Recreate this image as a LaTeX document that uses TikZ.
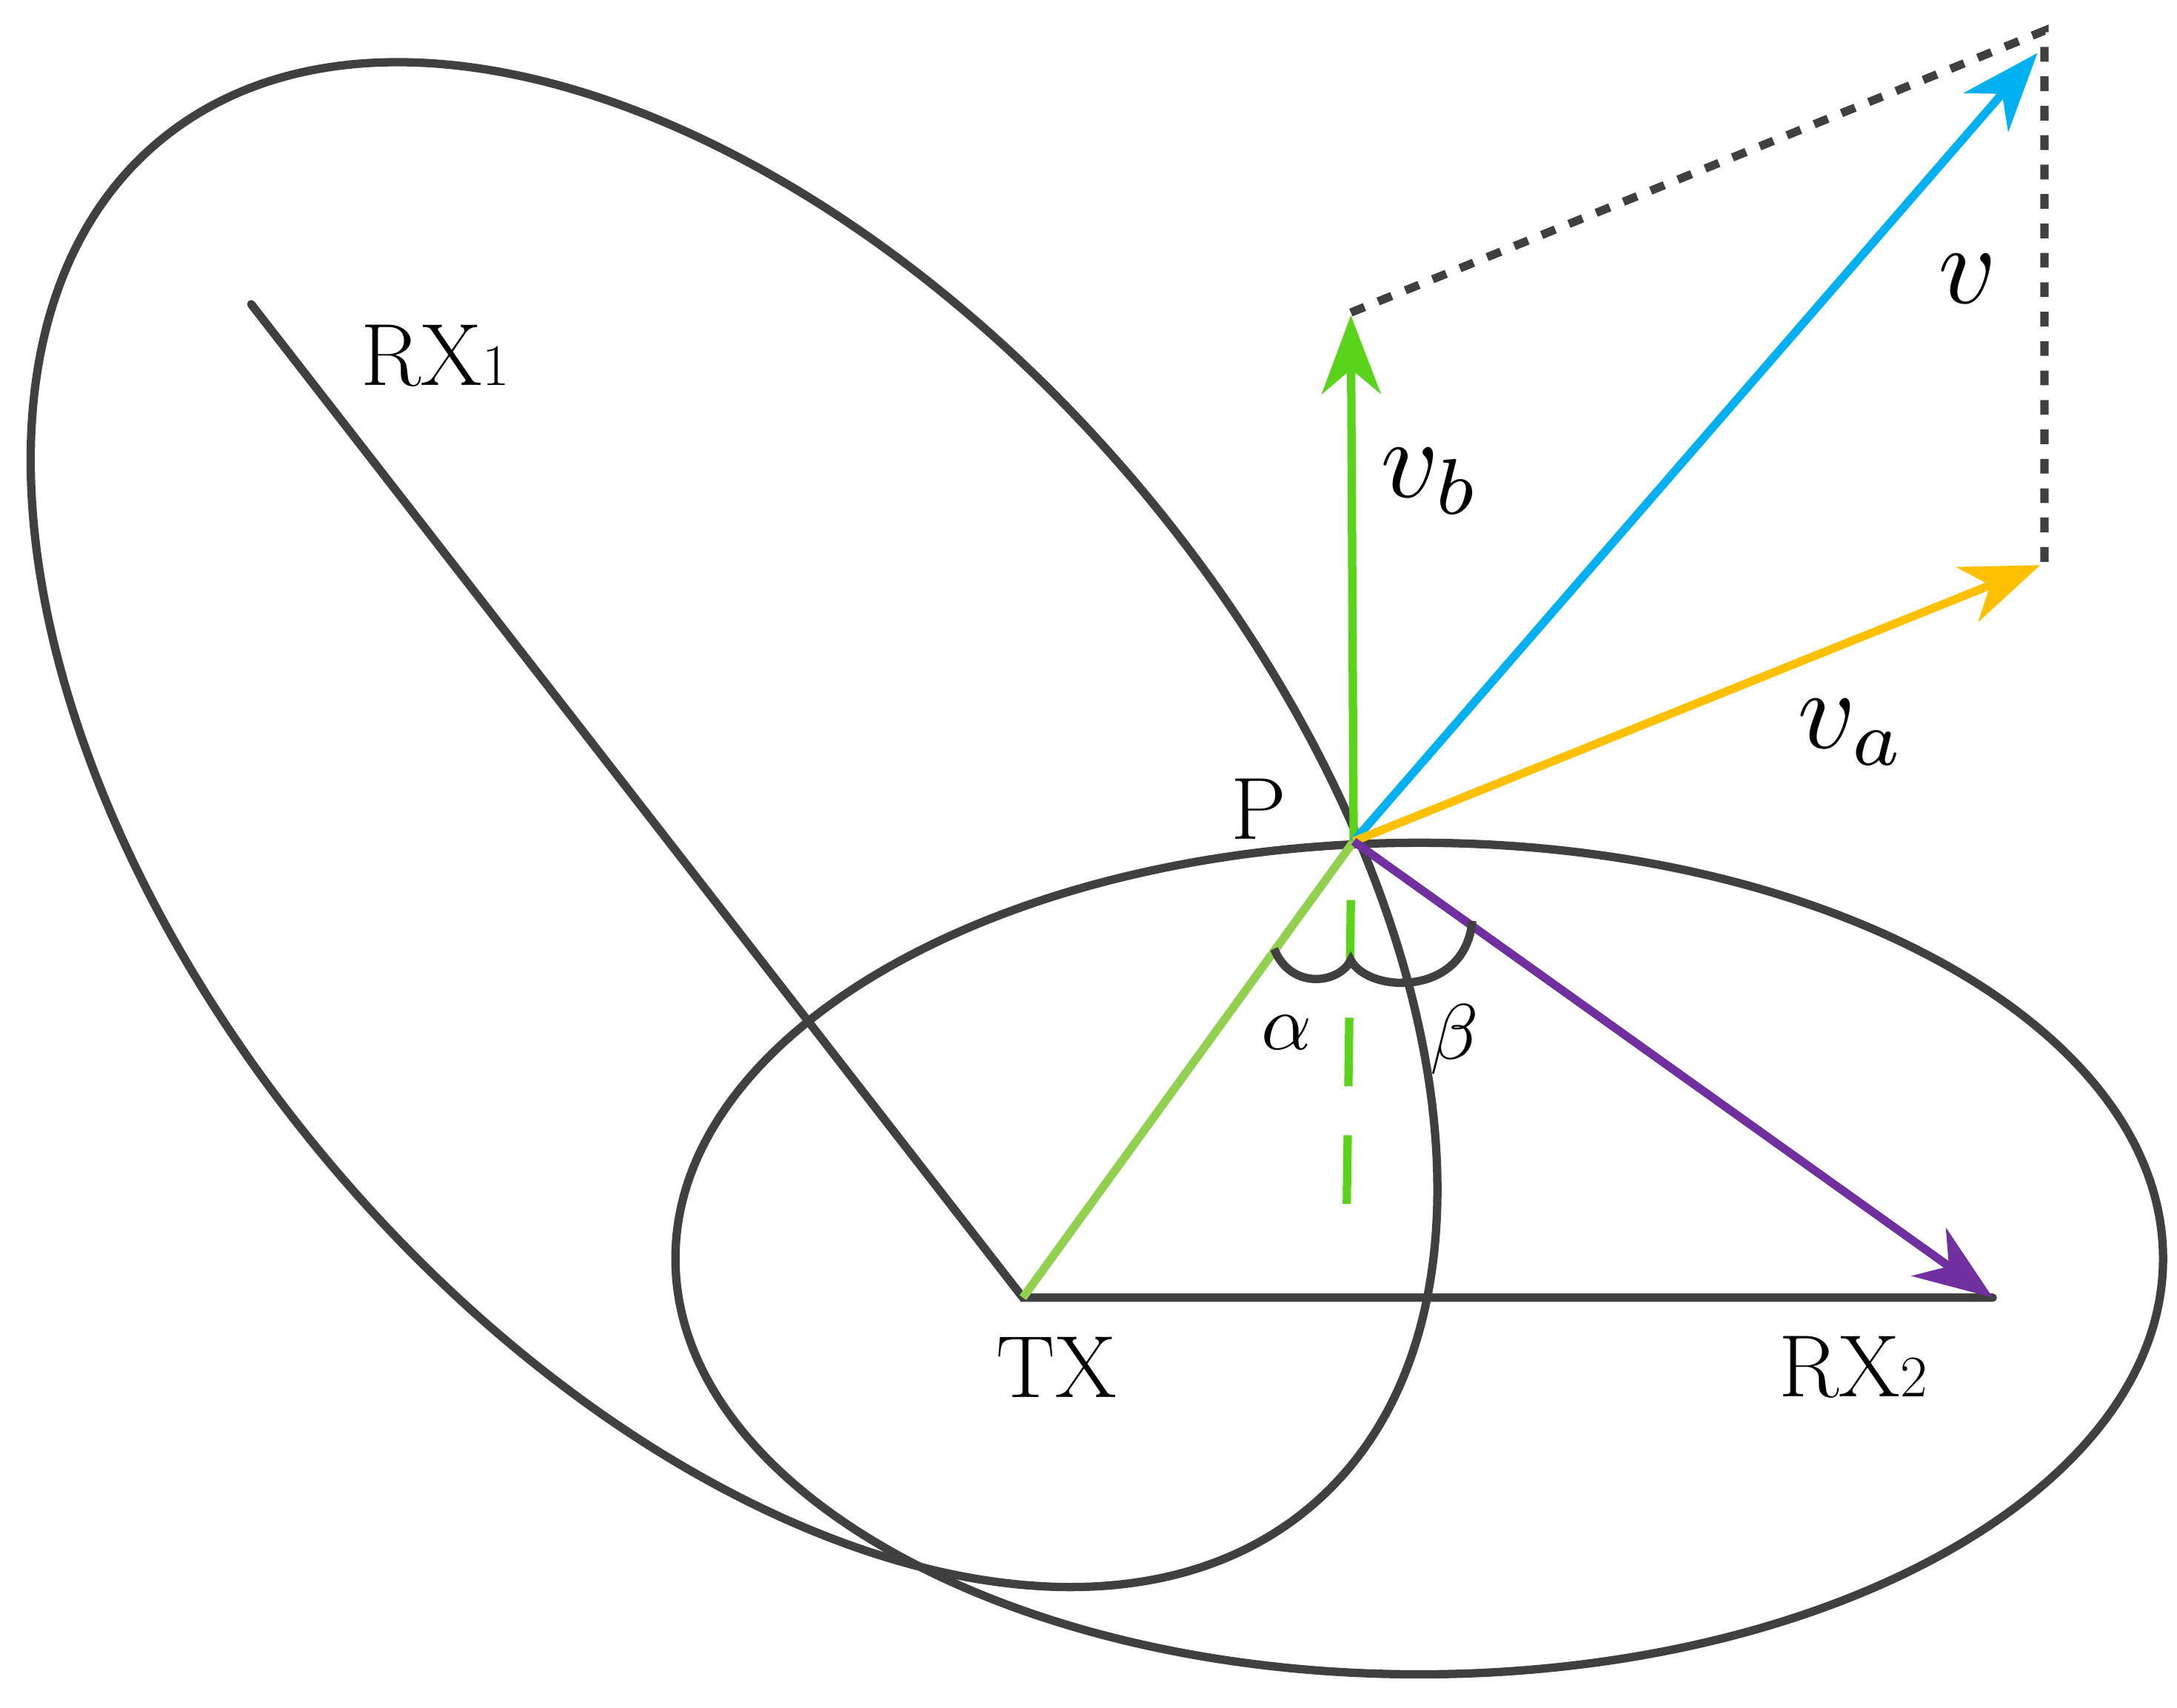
\documentclass[tikz,border=0pt]{standalone}
\usetikzlibrary{arrows.meta}
\begin{document}
\begin{tikzpicture}[x=0.02cm,y=-0.02cm,
  ln/.style={line width=3.4pt,draw=dk},
  ar/.style={line width=3.4pt,-{Stealth[length=32pt,width=24pt,inset=10pt]}},
  lab/.style={font=\fontsize{36}{40}\selectfont,inner sep=0pt},
  mlab/.style={inner sep=0pt}]
\definecolor{dk}{HTML}{404040}
\definecolor{gr}{HTML}{5AD41A}
\definecolor{lg}{HTML}{92D050}
\definecolor{yl}{HTML}{FFC000}
\definecolor{bl}{HTML}{00B0F0}
\definecolor{pu}{HTML}{7030A0}
\useasboundingbox (0,0) rectangle (1560,1224);
\coordinate (TX) at (733,930);
\coordinate (RX2) at (1428,930);
\coordinate (RX1) at (180,218);
\coordinate (P) at (970,603);
\coordinate (V) at (1460,38);
\coordinate (VB) at (968,226);
\coordinate (VA) at (1462,405);
\coordinate (C1) at (1465,22);
\coordinate (C2) at (1465,405);
\draw[ln] (526,591) ellipse[x radius=640,y radius=378,rotate=-49.8];
\draw[ln] (1017,902) ellipse[x radius=533,y radius=298];
\draw[ln,line cap=round] (RX1) -- (TX) -- (RX2);
\draw[line width=3.4pt,lg] (TX) -- (P);
\draw[ln,dash pattern=on 6pt off 6pt] (968,224) -- (C1) -- (C2);
\draw[ar,gr] (P) -- (VB);
\draw[ar,bl] (P) -- (V);
\draw[ar,yl] (P) -- (VA);
\draw[ar,pu] (P) -- (RX2);
\draw[line width=3.4pt,gr,dash pattern=on 28pt off 20pt] (968,645) -- (965,868);
\draw[ln] (913,680) .. controls (925,710) and (960,705) .. (968,688)
  .. controls (980,712) and (1050,715) .. (1055,660);
\node[lab] (tRX1) at (312,255) {RX{\fontsize{24}{26}\selectfont 1}};
\node[lab] (tTX) at (757,980) {TX};
\node[lab] (tRX2) at (1328,980) {RX{\fontsize{24}{26}\selectfont 2}};
\node[lab] (tP) at (902,580) {P};
\node[mlab] (tv) at (1410,200) {\scalebox{4.6}{$v$}};
\node[mlab] (tvb) at (1025,345) {\scalebox{4.6}{$v_b$}};
\node[mlab] (tva) at (1327,525) {\scalebox{4.6}{$v_a$}};
\node[mlab] (ta) at (922,740) {\scalebox{3.2}{$\alpha$}};
\node[mlab] (tb) at (1042,745) {\scalebox{3.2}{$\beta$}};
\end{tikzpicture}
\end{document}
